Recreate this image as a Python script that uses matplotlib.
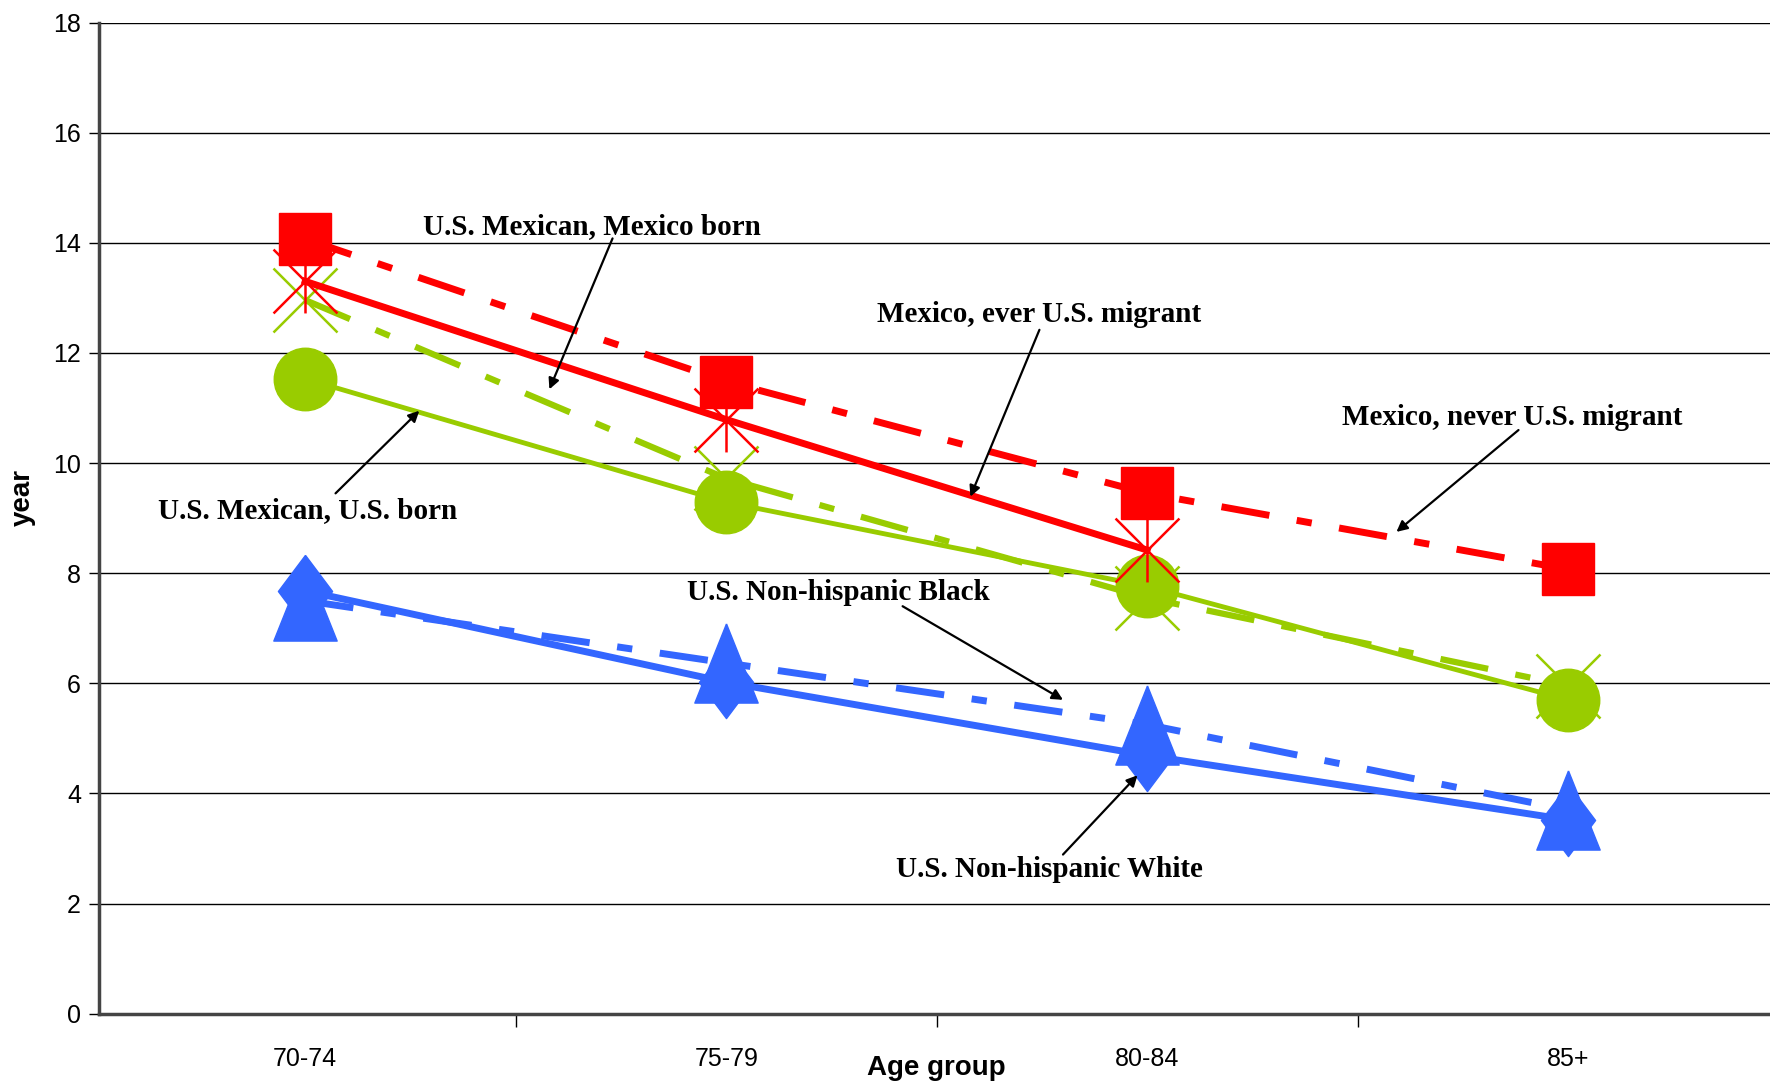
import matplotlib.pyplot as plt
import numpy as np
from matplotlib.path import Path

plt.rcParams['lines.scale_dashes'] = False

# Data (years)
age_groups = ['70-74', '75-79', '80-84', '85+']
mex_never = [14.07, 11.48, 9.45, 8.07]
mex_ever = [13.30, 10.79, 8.42, np.nan]
usmex_mexborn = [12.96, 9.72, 7.55, 5.96]
usmex_usborn = [11.53, 9.29, 7.76, 5.70]
nh_black = [7.50, 6.37, 5.25, 3.70]
nh_white = [7.68, 6.02, 4.69, 3.52]

red = '#FF0000'
green = '#99CC00'
blue = '#3366FF'
dashdot = (0, (35, 20, 11, 20))

# custom markers (Excel style)
star = Path([(-1, -1), (1, 1), (-1, 1), (1, -1), (0, -1), (0, 1)],
            [Path.MOVETO, Path.LINETO, Path.MOVETO, Path.LINETO, Path.MOVETO, Path.LINETO])
tri = [(0, 1), (-0.8, -1), (0.8, -1), (0, 1)]
diam = [(0, 1), (0.75, 0), (0, -1), (-0.75, 0), (0, 1)]

x = np.arange(len(age_groups))

fig = plt.figure(figsize=(17.7, 10.86), dpi=100)
ax = fig.add_axes([0.0559, 0.0666, 0.949, 0.9126])

# blue series
ax.plot(x, nh_black, color=blue, lw=5, linestyle=dashdot, marker=tri, ms=57,
        mec=blue, mfc=blue, zorder=3)
ax.plot(x, nh_white, color=blue, lw=5, marker=diam, ms=52, mec=blue, mfc=blue, zorder=3)

# green series
ax.plot(x, usmex_mexborn, color=green, lw=4.5, linestyle=dashdot, zorder=3)
ax.plot(x, usmex_mexborn, color=green, lw=0, marker='x', ms=46, mew=1.8, zorder=3)
ax.plot(x, usmex_usborn, color=green, lw=3.5, marker='o', ms=45, mec=green, mfc=green, zorder=4)

# red series
ax.plot(x, mex_ever, color=red, lw=5, zorder=5)
ax.plot(x, mex_ever, color=red, lw=0, marker=star, ms=46, mew=1.8, mfc='none', mec=red, zorder=5)
ax.plot(x, mex_never, color=red, lw=5, linestyle=dashdot, zorder=5)
ax.plot(x, mex_never, color=red, lw=0, marker='s', ms=37, mec=red, mfc=red, zorder=6)

# annotations
tfont = dict(family='Liberation Serif', weight='bold', size=21)
arrow = dict(arrowstyle='-|>', color='black', lw=1.6, mutation_scale=16, shrinkA=0, shrinkB=0)
notes = [
    ('U.S. Mexican, Mexico born', (0.682, 14.29), (0.730, 14.08), (0.580, 11.34)),
    ('Mexico, ever U.S. migrant', (1.744, 12.69), (1.744, 12.42), (1.580, 9.39)),
    ('Mexico, never U.S. migrant', (2.868, 10.82), (2.882, 10.60), (2.592, 8.75)),
    ('U.S. Mexican, U.S. born', (0.005, 9.14), (0.072, 9.45), (0.271, 10.95)),
    ('U.S. Non-hispanic Black', (1.266, 7.65), (1.419, 7.40), (1.800, 5.70)),
    ('U.S. Non-hispanic White', (1.768, 2.62), (1.800, 2.89), (1.977, 4.33)),
]
for label, tpos, tail, head in notes:
    ax.annotate('', xy=head, xytext=tail, arrowprops=arrow, zorder=8)
    ax.text(tpos[0], tpos[1], label, ha='center', va='center', zorder=9, **tfont)

# axes styling
ax.set_xlim(-0.49, 3.5)
ax.set_ylim(0, 18)
ax.set_yticks(np.arange(0, 19, 2))
ax.set_xticks(x)
ax.set_xticklabels(age_groups)
ax.set_xticks([0.5, 1.5, 2.5], minor=True)
ax.tick_params(axis='x', which='major', length=0, pad=24, labelsize=18)
ax.tick_params(axis='x', which='minor', length=9, width=1, direction='out', color='black')
ax.tick_params(axis='y', length=7, width=1, direction='out', labelsize=18, pad=6)
for lab in ax.get_xticklabels() + ax.get_yticklabels():
    lab.set_family('Liberation Sans')

ax.grid(axis='y', color='black', lw=1)
ax.set_axisbelow(True)
for s in ['top', 'right']:
    ax.spines[s].set_visible(False)
for s in ['left', 'bottom']:
    ax.spines[s].set_color('#444444')
    ax.spines[s].set_linewidth(2.5)

fig.text(0.529, 0.0166, 'Age group', ha='center', va='center', fontsize=20,
         fontweight='bold', family='Liberation Sans')
fig.text(0.0128, 0.542, 'year', ha='center', va='center', rotation=90, fontsize=20,
         fontweight='bold', family='Liberation Sans')

fig.savefig('out.png', dpi=100)
